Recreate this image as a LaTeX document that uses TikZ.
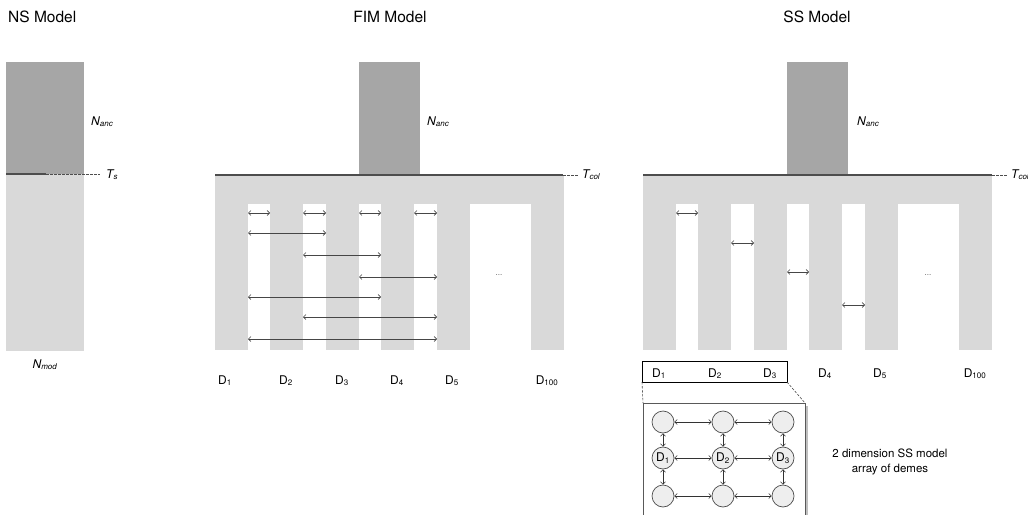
\documentclass[tikz,border=0pt]{standalone}
\usepackage{fontspec}
\setmainfont{TeX Gyre Heros}
\usetikzlibrary{arrows.meta}
\definecolor{darkfill}{HTML}{A6A6A6}
\definecolor{lightfill}{HTML}{D9D9D9}
\definecolor{tline}{HTML}{4D4D4D}
\definecolor{circfill}{HTML}{EEEEEE}
\begin{document}
\begin{tikzpicture}[x=1pt,y=-1pt,
  mig/.style={{Straight Barb[length=2.5pt,width=5pt]}-{Straight Barb[length=2.5pt,width=5pt]}, line width=0.6pt, draw=gray!55!black},
  title/.style={font=\fontsize{15.5}{18}\selectfont, anchor=base, inner sep=0pt},
  lab/.style={font=\fontsize{12}{14}\selectfont, anchor=base, inner sep=0pt},
  small/.style={font=\fontsize{11.5}{14}\selectfont, anchor=base, inner sep=0pt},
  dots/.style={font=\fontsize{8}{10}\selectfont, text=gray!70!black, inner sep=0pt},
  tsolid/.style={draw=tline, line width=1.3pt},
  tdash/.style={draw=tline, line width=0.8pt, dash pattern=on 2.5pt off 1.5pt},
  deme/.style={circle, draw=gray!60!black, line width=0.7pt, fill=circfill, minimum size=22pt, inner sep=0pt, font=\fontsize{12}{14}\selectfont}
]
\clip (0,0) rectangle (1028,514);
\fill[white] (0,0) rectangle (1028,514);

% ---------- titles
\node[title, anchor=base west] (tns) at (8,23) {NS Model};
\node[title] (tfim) at (390,23) {FIM Model};
\node[title] (tss) at (817,23) {SS Model};

% ---------- NS model
\fill[darkfill] (6,62) rectangle (84,174);
\fill[lightfill] (6,174) rectangle (84,351);
\draw[tsolid] (6,174) -- (46,174);
\draw[tdash] (46,174) -- (100,174);
\node[lab, anchor=base west] (nsanc) at (91,125) {\textit{N\textsubscript{anc}}};
\node[lab, anchor=base west] (nsts) at (106,178) {\textit{T\textsubscript{s}}};
\node[lab] (nsmod) at (45,368) {\textit{N\textsubscript{mod}}};

% ---------- FIM model
\fill[darkfill] (359,62) rectangle (420,175);
\fill[lightfill] (215,175) rectangle (564,204);
\foreach \x in {215,270,326,381,437,531} {
  \fill[lightfill] (\x,203) rectangle ({\x+33},350);
}
\draw[tsolid] (215,175) -- (563,175);
\draw[tdash] (563,175) -- (579,175);
\node[lab, anchor=base west] (fimanc) at (427,125) {\textit{N\textsubscript{anc}}};
\node[lab, anchor=base west] (fimt) at (582,178) {\textit{T\textsubscript{col}}};
\node[dots] (fimdots) at (499,275) {...};
\foreach \x/\n [count=\i] in {225/1,286/2,342/3,397/4,452/5,547/100} {
  \node[lab] (fd\i) at (\x,384) {D\textsubscript{\n}};
}
% migration arrows
\foreach \a/\b in {248/270,303/326,359/381,414/437} {
  \draw[mig] (\a,213) -- (\b,213);
}
\draw[mig] (248,233) -- (326,233);
\draw[mig] (303,255) -- (381,255);
\draw[mig] (359,277) -- (437,277);
\draw[mig] (248,297) -- (381,297);
\draw[mig] (303,317) -- (437,317);
\draw[mig] (248,339) -- (437,339);

% ---------- SS model
\fill[darkfill] (787,62) rectangle (848,175);
\fill[lightfill] (643,175) rectangle (992,204);
\foreach \x in {643,698,754,809,865,959} {
  \fill[lightfill] (\x,203) rectangle ({\x+33},350);
}
\draw[tsolid] (643,175) -- (992,175);
\draw[tdash] (992,175) -- (1007,175);
\node[lab, anchor=base west] (ssanc) at (857,125) {\textit{N\textsubscript{anc}}};
\node[lab, anchor=base west] (sst) at (1011,178) {\textit{T\textsubscript{col}}};
\node[dots] (ssdots) at (928,275) {...};
\draw[mig] (676,213) -- (698,213);
\draw[mig] (731,243) -- (754,243);
\draw[mig] (787,272) -- (809,272);
\draw[mig] (842,305) -- (865,305);
\foreach \x/\n [count=\i] in {659/1,715/2,770/3,825/4,880/5,975/100} {
  \node[lab] (sd\i) at (\x,377) {D\textsubscript{\n}};
}
% zoom box
\draw[line width=0.8pt] (642,361) rectangle (787,382);
\coordinate (zbl) at (642,382);
\coordinate (zbr) at (787,382);
% inset
\fill[gray!50] (646,406) rectangle (808,520);
\draw[gray!70!black, line width=0.8pt, fill=white] (643,403) rectangle (805,520);
\coordinate (itl) at (643,403);
\coordinate (itr) at (805,403);
\draw[tdash, line width=0.6pt] (zbl) -- (itl);
\draw[tdash, line width=0.6pt] (zbr) -- (itr);

\node[deme] (c11) at (663,422) {};
\node[deme] (c12) at (723,422) {};
\node[deme] (c13) at (783,422) {};
\node[deme] (c21) at (663,458) {D\textsubscript{1}};
\node[deme] (c22) at (723,458) {D\textsubscript{2}};
\node[deme] (c23) at (783,458) {D\textsubscript{3}};
\node[deme] (c31) at (663,496) {};
\node[deme] (c32) at (723,496) {};
\node[deme] (c33) at (783,496) {};
\foreach \r in {1,2,3} {
  \draw[mig, draw=black!80] (c\r1) -- (c\r2);
  \draw[mig, draw=black!80] (c\r2) -- (c\r3);
}
\foreach \c in {1,2,3} {
  \draw[mig, draw=black!80] (c1\c) -- (c2\c);
  \draw[mig, draw=black!80] (c2\c) -- (c3\c);
}
\node[small] (cap1) at (890,457) {2 dimension SS model};
\node[small] (cap2) at (890,472) {array of demes};
\end{tikzpicture}
\end{document}
